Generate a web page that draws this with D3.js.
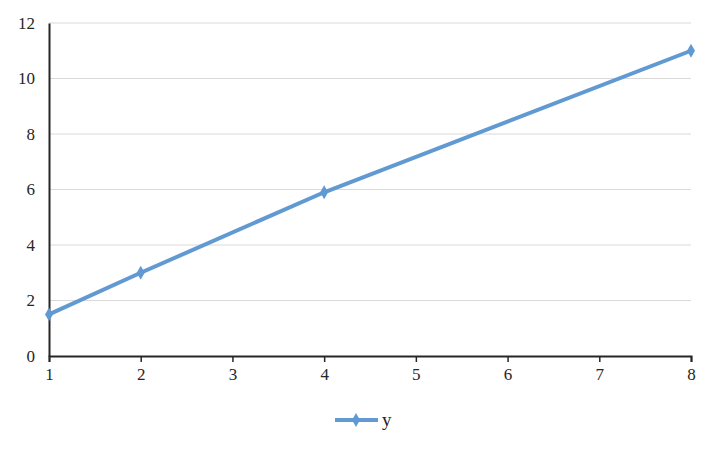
<!DOCTYPE html>
<html>
<head>
<meta charset="utf-8">
<script src="https://cdn.jsdelivr.net/npm/d3@7"></script>
<style>
body{margin:0;background:#fff;}
text{font-family:"Liberation Serif","Times New Roman",serif;fill:#262626;}
</style>
</head>
<body>
<script>
var xValues = [1, 2, 4, 8];
var yValues = [1.5, 3, 5.9, 11];
var xTicks = [1, 2, 3, 4, 5, 6, 7, 8];
var yTicks = [0, 2, 4, 6, 8, 10, 12];
var seriesName = 'y';

var WIDTH = 720, HEIGHT = 450;
var MARGIN = {top: 23, left: 49, right: 29, bottom: 94};
var INNER_WIDTH = WIDTH - MARGIN.left - MARGIN.right;
var INNER_HEIGHT = HEIGHT - MARGIN.top - MARGIN.bottom;
var COLOR = '#6199d2';

var data = xValues.map(function(x, i){ return {x: x, y: yValues[i]}; });

var _xScale = d3.scaleLinear().domain([1, 8]).range([0, INNER_WIDTH]);
var _yScale = d3.scaleLinear().domain([0, 12]).range([INNER_HEIGHT, 0]);

var _svg = d3.select('body').append('svg')
    .attr('width', WIDTH)
    .attr('height', HEIGHT);

var g = _svg.append('g')
    .attr('transform', 'translate(' + MARGIN.left + ',' + MARGIN.top + ')');

// gridlines
g.selectAll('line.grid').data(yTicks.filter(function(d){ return d > 0; }))
    .enter().append('line')
    .attr('x1', 0).attr('x2', INNER_WIDTH)
    .attr('y1', function(d){ return _yScale(d); })
    .attr('y2', function(d){ return _yScale(d); })
    .attr('stroke', '#d9d9d9').attr('stroke-width', 1);

// y axis
var yAxis = g.append('g')
    .call(d3.axisLeft(_yScale).tickValues(yTicks).tickFormat(d3.format('d')).tickSize(0).tickPadding(14));
yAxis.select('.domain').attr('stroke', '#262626').attr('stroke-width', 2);
yAxis.selectAll('text').style('font-size', '17px');

// x axis
var xAxis = g.append('g')
    .attr('transform', 'translate(0,' + INNER_HEIGHT + ')')
    .call(d3.axisBottom(_xScale).tickValues(xTicks).tickFormat(d3.format('d')).tickSize(6).tickSizeOuter(6).tickPadding(6));
xAxis.select('.domain').attr('stroke', '#262626').attr('stroke-width', 2);
xAxis.selectAll('.tick line').attr('stroke', '#262626').attr('stroke-width', 1.5);
xAxis.selectAll('text').style('font-size', '17px');

// series line
var line = d3.line()
    .x(function(d){ return _xScale(d.x); })
    .y(function(d){ return _yScale(d.y); });

g.append('path')
    .attr('d', line(data))
    .attr('fill', 'none')
    .attr('stroke', COLOR)
    .attr('stroke-width', 4)
    .attr('stroke-linejoin', 'round');

var diamond = d3.symbol().type(d3.symbolDiamond).size(55);
g.selectAll('path.dot').data(data)
    .enter().append('path')
    .attr('class', 'dot')
    .attr('d', diamond)
    .attr('fill', COLOR)
    .attr('transform', function(d){ return 'translate(' + _xScale(d.x) + ',' + _yScale(d.y) + ')'; });

// legend
var lg = _svg.append('g').attr('transform', 'translate(335,420)');
lg.append('line')
    .attr('x1', 0).attr('x2', 43).attr('y1', 0).attr('y2', 0)
    .attr('stroke', COLOR).attr('stroke-width', 4);
lg.append('path')
    .attr('d', diamond)
    .attr('fill', COLOR)
    .attr('transform', 'translate(21,0)');
lg.append('text')
    .attr('x', 47).attr('y', 6)
    .style('font-size', '19px')
    .text(seriesName);
</script>
</body>
</html>
